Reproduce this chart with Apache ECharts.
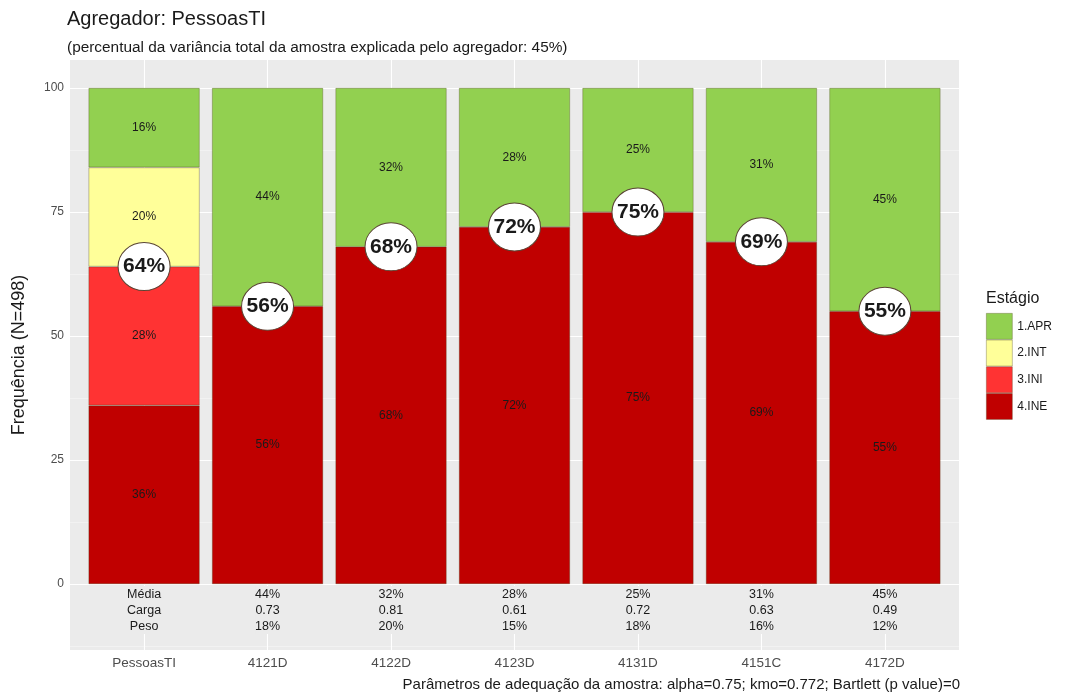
<!DOCTYPE html>
<html><head><meta charset="utf-8">
<script src="https://cdn.jsdelivr.net/npm/echarts@6/dist/echarts.min.js"></script>
<style>html,body{margin:0;padding:0;background:#fff}#c{width:1066px;height:695px}</style>
</head><body><div id="c"></div>
<script>
const categories = ['PessoasTI','4121D','4122D','4123D','4131D','4151C','4172D'];
const stages = ['1.APR','2.INT','3.INI','4.INE'];
const aprVals = [16,44,32,28,25,31,45];
const intVals = [20,null,null,null,null,null,null];
const iniVals = [28,null,null,null,null,null,null];
const ineVals = [36,56,68,72,75,69,55];
const circleVals = [64,56,68,72,75,69,55];
const mediaRow = ['Média','44%','32%','28%','25%','31%','45%'];
const cargaRow = ['Carga','0.73','0.81','0.61','0.72','0.63','0.49'];
const pesoRow = ['Peso','18%','20%','15%','18%','16%','12%'];
const yTicks = [0,25,50,75,100];
const yMinorTicks = [-12.5,12.5,37.5,62.5,87.5];
const catPositions = [0,1,2,3,4,5,6];

const FONT = "'Liberation Sans', Arial, sans-serif";
const Y_MIN = -13.3, Y_MAX = 105.65;
const TABLE_Y = -5.25;
const colors = {'1.APR':'#92d050','2.INT':'#ffff99','3.INI':'#ff3333','4.INE':'#c00000'};

const chart = echarts.init(document.getElementById('c'), null, {renderer:'canvas'});

function barSeries(name, vals) {
  return {
    name, type:'bar', stack:'s', xAxisIndex:1, yAxisIndex:1, barWidth:'90%', z:2,
    data: vals,
    itemStyle:{color:colors[name], borderColor:'rgba(70,60,20,0.45)', borderWidth:0.7},
    label:{show:true, position:'inside', formatter:p=>p.value==null?'':p.value+'%',
      color:'#1a1a1a', fontSize:12, fontFamily:FONT},
    emphasis:{disabled:true}
  };
}

const option = {
  animation:false,
  textStyle:{fontFamily:FONT},
  title:[
    {text:'Agregador: PessoasTI', left:62, top:4, textStyle:{fontSize:20, fontWeight:'normal', color:'#1a1a1a', fontFamily:FONT}},
    {text:'(percentual da variância total da amostra explicada pelo agregador: 45%)', left:62, top:35, textStyle:{fontSize:15.4, fontWeight:'normal', color:'#1a1a1a', fontFamily:FONT}},
    {text:'Estágio', left:981, top:286, textStyle:{fontSize:16, fontWeight:'normal', color:'#1a1a1a', fontFamily:FONT}},
    {text:'Parâmetros de adequação da amostra: alpha=0.75; kmo=0.772; Bartlett (p value)=0', right:101, top:672, textStyle:{fontSize:15, fontWeight:'normal', color:'#1a1a1a', fontFamily:FONT}}
  ],
  legend:{
    data:stages, orient:'vertical', left:981, top:308, itemWidth:26, itemHeight:26, itemGap:0,
    icon:'rect', textStyle:{fontSize:12, color:'#1a1a1a', fontFamily:FONT}, itemStyle:{borderWidth:0.7, borderColor:'rgba(70,60,20,0.45)'},
    selectedMode:false
  },
  grid:[
    {left:70, top:60, width:889, height:590, show:true, backgroundColor:'#ebebeb', borderWidth:0},
    {left:82.35, top:60, width:864.3, height:590}
  ],
  xAxis:[
    {gridIndex:0, type:'value', min:-0.6, max:6.6, show:false},
    {gridIndex:1, type:'category', data:categories,
      axisLine:{show:false}, axisTick:{show:true, alignWithLabel:true, length:4, lineStyle:{color:'#333'}},
      axisLabel:{fontSize:13.5, color:'#4d4d4d', margin:6, fontFamily:FONT}, splitLine:{show:false}}
  ],
  yAxis:[
    {gridIndex:0, type:'value', min:Y_MIN, max:Y_MAX,
      name:'Frequência (N=498)', nameLocation:'middle', nameGap:42,
      nameTextStyle:{fontSize:18, color:'#1a1a1a', fontFamily:FONT},
      axisLine:{show:false},
      axisTick:{show:true, length:4, lineStyle:{color:'#333'}, customValues:yTicks},
      axisLabel:{fontSize:12, color:'#4d4d4d', margin:6, customValues:yTicks, fontFamily:FONT},
      splitLine:{show:false}},
    {gridIndex:1, type:'value', min:Y_MIN, max:Y_MAX, show:false}
  ],
  series:[
    {type:'line', xAxisIndex:0, yAxisIndex:0, data:[], z:1, silent:true,
      markLine:{silent:true, symbol:'none', z:1, label:{show:false}, emphasis:{disabled:true},
        data:[
          ...yTicks.map(v=>({yAxis:v, lineStyle:{color:'#ffffff', width:1.1, type:'solid'}})),
          ...yMinorTicks.map(v=>({yAxis:v, lineStyle:{color:'#f7f7f7', width:0.6, type:'solid'}})),
          ...catPositions.map(v=>({xAxis:v, lineStyle:{color:'#ffffff', width:1.1, type:'solid'}}))
        ]}},
    barSeries('4.INE', ineVals),
    barSeries('3.INI', iniVals),
    barSeries('2.INT', intVals),
    barSeries('1.APR', aprVals),
    {type:'scatter', xAxisIndex:1, yAxisIndex:1, z:5, symbol:'circle', symbolSize:[52,48],
      data:circleVals,
      itemStyle:{color:'#ffffff', opacity:1, borderColor:'#5a4535', borderWidth:1},
      label:{show:true, position:'inside', formatter:p=>p.value+'%', fontSize:21, fontWeight:'bold', color:'#1a1a1a', fontFamily:FONT},
      emphasis:{disabled:true}},
    {type:'scatter', xAxisIndex:1, yAxisIndex:1, z:5, symbolSize:1, itemStyle:{color:'rgba(0,0,0,0)', opacity:1},
      data:categories.map(()=>TABLE_Y),
      label:{show:true, position:'inside', formatter:p=>mediaRow[p.dataIndex]+'\n'+cargaRow[p.dataIndex]+'\n'+pesoRow[p.dataIndex],
        fontSize:12.5, lineHeight:16, color:'#1a1a1a', align:'center', backgroundColor:'#ebebeb', fontFamily:FONT},
      emphasis:{disabled:true}}
  ]
};
chart.setOption(option);
</script></body></html>
